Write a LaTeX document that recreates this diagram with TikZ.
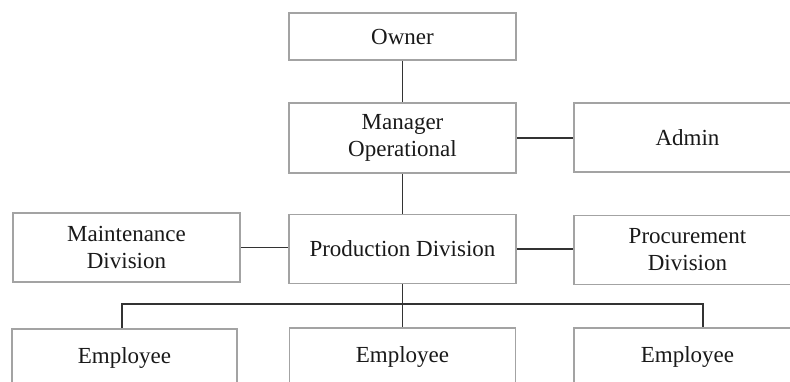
\documentclass[tikz,border=0pt]{standalone}
\usepackage{fontspec}
\setmainfont{Liberation Serif}
\begin{document}
\begin{tikzpicture}[x=1pt,y=-1pt,
  box/.style={draw=boxgray,line width=1.8pt,fill=white,inner sep=0pt,align=center,
    font=\fontsize{23}{27}\selectfont,text=black!90},
  link/.style={draw=black!80,line width=1.1pt}]
\definecolor{boxgray}{HTML}{A3A3A3}
\useasboundingbox (0,0) rectangle (790,381);
\clip (0,0) rectangle (790,381);
% nodes
\node[box,minimum width=227pt,minimum height=47pt] (owner) at (402.5,36.5) {Owner};
\node[box,minimum width=227pt,minimum height=70pt] (manager) at (402.5,138) {Manager\\Operational};
\node[box,minimum width=227pt,minimum height=69pt] (admin) at (687.5,137.5) {Admin};
\node[box,minimum width=227pt,minimum height=69pt] (maint) at (126.5,247.5) {Maintenance\\Division};
\node[box,minimum width=227pt,minimum height=69pt] (prod) at (402.5,249) {Production Division};
\node[box,minimum width=227pt,minimum height=69pt] (proc) at (687.5,250) {Procurement\\Division};
\node[box,minimum width=225pt,minimum height=58pt] (emp1) at (124.5,358) {Employee};
\node[box,minimum width=226pt,minimum height=58pt] (emp2) at (402.5,357) {Employee};
\node[box,minimum width=227pt,minimum height=58pt] (emp3) at (687.5,357) {Employee};
% bus coordinates
\coordinate (busL) at (122,304);
\coordinate (busM) at (402.5,304);
\coordinate (busR) at (703,304);
% connectors
\draw[link] (owner.south) -- (manager.north);
\draw[link] (manager.east) -- (manager.east -| admin.west);
\draw[link] (manager.south) -- (prod.north);
\draw[link] (maint.east) -- (maint.east -| prod.west);
\draw[link] (prod.east) -- (prod.east -| proc.west);
\draw[link] (prod.south) -- (busM);
\draw[link] (busL |- emp1.north) -- (busL) -- (busR) -- (busR |- emp3.north);
\draw[link] (busM) -- (emp2.north);
\end{tikzpicture}
\end{document}
